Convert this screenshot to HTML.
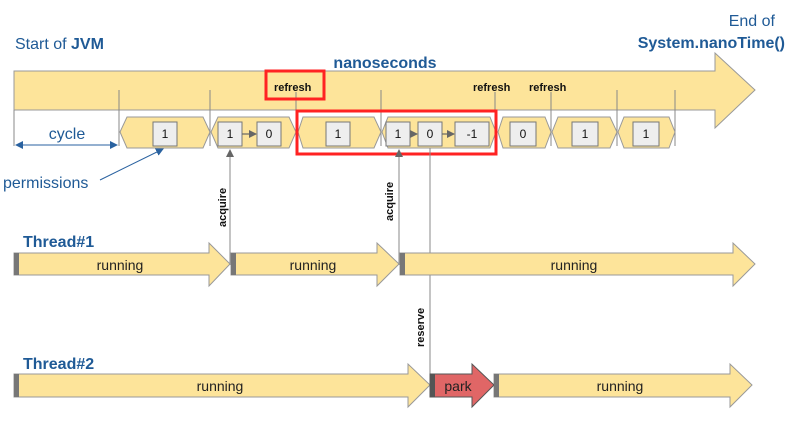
<!DOCTYPE html>
<html><head><meta charset="utf-8"><style>
body{margin:0;background:#fff}
svg{display:block;font-family:"Liberation Sans",sans-serif}
</style></head><body>
<svg width="790" height="421" viewBox="0 0 790 421" xmlns="http://www.w3.org/2000/svg">
<defs>
<marker id="ah" markerWidth="8" markerHeight="8" refX="7" refY="4" orient="auto" markerUnits="userSpaceOnUse"><path d="M0,0 L8,4 L0,8 z" fill="#666"/></marker>
<marker id="bh" markerWidth="8" markerHeight="8" refX="7" refY="4" orient="auto-start-reverse" markerUnits="userSpaceOnUse"><path d="M0,0 L8,4 L0,8 z" fill="#2a62a0"/></marker>
</defs>
<text x="15" y="49" font-size="16" fill="#1f5a96">Start of <tspan font-weight="bold">JVM</tspan></text>
<text x="775" y="26" font-size="16" fill="#1f5a96" text-anchor="end">End of</text>
<text x="785" y="48" font-size="16" fill="#1f5a96" text-anchor="end" font-weight="bold">System.nanoTime()</text>
<text x="385" y="68" font-size="16" fill="#1f5a96" text-anchor="middle" font-weight="bold">nanoseconds</text>
<!-- main arrow -->
<polygon points="14,71 715,71 715,53 755,90 715,128 715,110 14,110" fill="#fde49a" stroke="#999" stroke-width="1"/>
<g stroke="#888" stroke-width="1">
<line x1="14" y1="110" x2="14" y2="146"/>
<line x1="119" y1="90" x2="119" y2="146"/>
<line x1="210" y1="90" x2="210" y2="146"/>
<line x1="296" y1="92" x2="296" y2="146"/>
<line x1="381" y1="90" x2="381" y2="146"/>
<line x1="495" y1="92" x2="495" y2="146"/>
<line x1="551" y1="92" x2="551" y2="146"/>
<line x1="617" y1="90" x2="617" y2="146"/>
<line x1="675" y1="90" x2="675" y2="146"/>
</g>
<g font-size="11" font-weight="bold" fill="#111">
<text x="274" y="91">refresh</text>
<text x="473" y="91">refresh</text>
<text x="529" y="91">refresh</text>
</g>
<!-- hexagons -->
<g fill="#fde49a" stroke="#999" stroke-width="1">
<polygon points="120,132 127,117 203,117 210,132 203,148 127,148"/>
<polygon points="211,132 218,117 289,117 296,132 289,148 218,148"/>
<polygon points="298,132 303,117 374,117 381,132 374,148 303,148"/>
<polygon points="382,132 388,117 490,117 496,132 490,148 388,148"/>
<polygon points="498,132 503,117 545,117 551,132 545,148 503,148"/>
<polygon points="552,132 558,117 610,117 617,132 610,148 558,148"/>
<polygon points="618,132 624,117 669,117 675,132 669,148 624,148"/>
</g>
<g fill="#eee" stroke="#777" stroke-width="1">
<rect x="153" y="122" width="24" height="24"/>
<rect x="218" y="122" width="24" height="24"/>
<rect x="257" y="122" width="24" height="24"/>
<rect x="326" y="122" width="24" height="24"/>
<rect x="386" y="122" width="24" height="24"/>
<rect x="418" y="122" width="24" height="24"/>
<rect x="455" y="122" width="34" height="24"/>
<rect x="510" y="122" width="26" height="24"/>
<rect x="572" y="122" width="26" height="24"/>
<rect x="633" y="122" width="26" height="24"/>
</g>
<g font-size="12" fill="#111" text-anchor="middle">
<text x="165" y="138">1</text><text x="230" y="138">1</text><text x="269" y="138">0</text>
<text x="338" y="138">1</text><text x="398" y="138">1</text><text x="430" y="138">0</text>
<text x="472" y="138">-1</text><text x="523" y="138">0</text><text x="585" y="138">1</text><text x="646" y="138">1</text>
</g>
<g stroke="#666" stroke-width="1.2" marker-end="url(#ah)">
<line x1="242" y1="134" x2="256" y2="134"/>
<line x1="410" y1="134" x2="417" y2="134"/>
<line x1="442" y1="134" x2="454" y2="134"/>
</g>
<!-- red highlights -->
<rect x="266" y="71" width="58" height="28" fill="none" stroke="#f22" stroke-width="3"/>
<rect x="297" y="111" width="199" height="43" fill="none" stroke="#f22" stroke-width="3"/>
<!-- cycle -->
<line x1="16" y1="145" x2="117" y2="145" stroke="#2a62a0" stroke-width="1" marker-start="url(#bh)" marker-end="url(#bh)"/>
<text x="67" y="139" font-size="16" fill="#1f5a96" text-anchor="middle">cycle</text>
<text x="3" y="188" font-size="16" fill="#1f5a96">permissions</text>
<line x1="100" y1="180" x2="163" y2="149" stroke="#2a62a0" stroke-width="1" marker-end="url(#bh)"/>
<!-- vertical connectors -->
<line x1="230" y1="265" x2="230" y2="150" stroke="#888" stroke-width="1" marker-end="url(#ah)"/>
<line x1="399" y1="265" x2="399" y2="150" stroke="#888" stroke-width="1" marker-end="url(#ah)"/>
<line x1="430" y1="148" x2="430" y2="385" stroke="#888" stroke-width="1"/>
<g font-size="11" font-weight="bold" fill="#111">
<text transform="translate(226,227) rotate(-90)">acquire</text>
<text transform="translate(393,221) rotate(-90)">acquire</text>
<text transform="translate(424,347) rotate(-90)">reserve</text>
</g>
<!-- threads -->
<text x="23" y="247" font-size="16" font-weight="bold" fill="#1f5a96">Thread#1</text>
<text x="23" y="369" font-size="16" font-weight="bold" fill="#1f5a96">Thread#2</text>
<g stroke="#999" stroke-width="1" fill="#fde49a">
<polygon points="14,253 209,253 209,243 230,264 209,286 209,275 14,275"/>
<polygon points="231,253 377,253 377,243 399,264 377,286 377,275 231,275"/>
<polygon points="400,253 733,253 733,243 755,264 733,286 733,275 400,275"/>
<polygon points="14,374 408,374 408,364 430,385 408,407 408,397 14,397"/>
<polygon points="494,374 730,374 730,364 752,385 730,407 730,397 494,397"/>
<polygon points="430,374 472,374 472,364 494,385 472,407 472,397 430,397" fill="#e06666" stroke="#555"/>
</g>
<g fill="#777">
<rect x="14" y="253" width="5" height="22"/><rect x="231" y="253" width="5" height="22"/><rect x="400" y="253" width="5" height="22"/>
<rect x="14" y="374" width="5" height="23"/><rect x="494" y="374" width="5" height="23"/>
<rect x="430" y="374" width="5" height="23" fill="#555"/>
</g>
<g font-size="14" fill="#222" text-anchor="middle">
<text x="120" y="270">running</text><text x="313" y="270">running</text><text x="574" y="270">running</text>
<text x="220" y="391">running</text><text x="620" y="391">running</text><text x="458" y="391">park</text>
</g>
</svg>
</body></html>
